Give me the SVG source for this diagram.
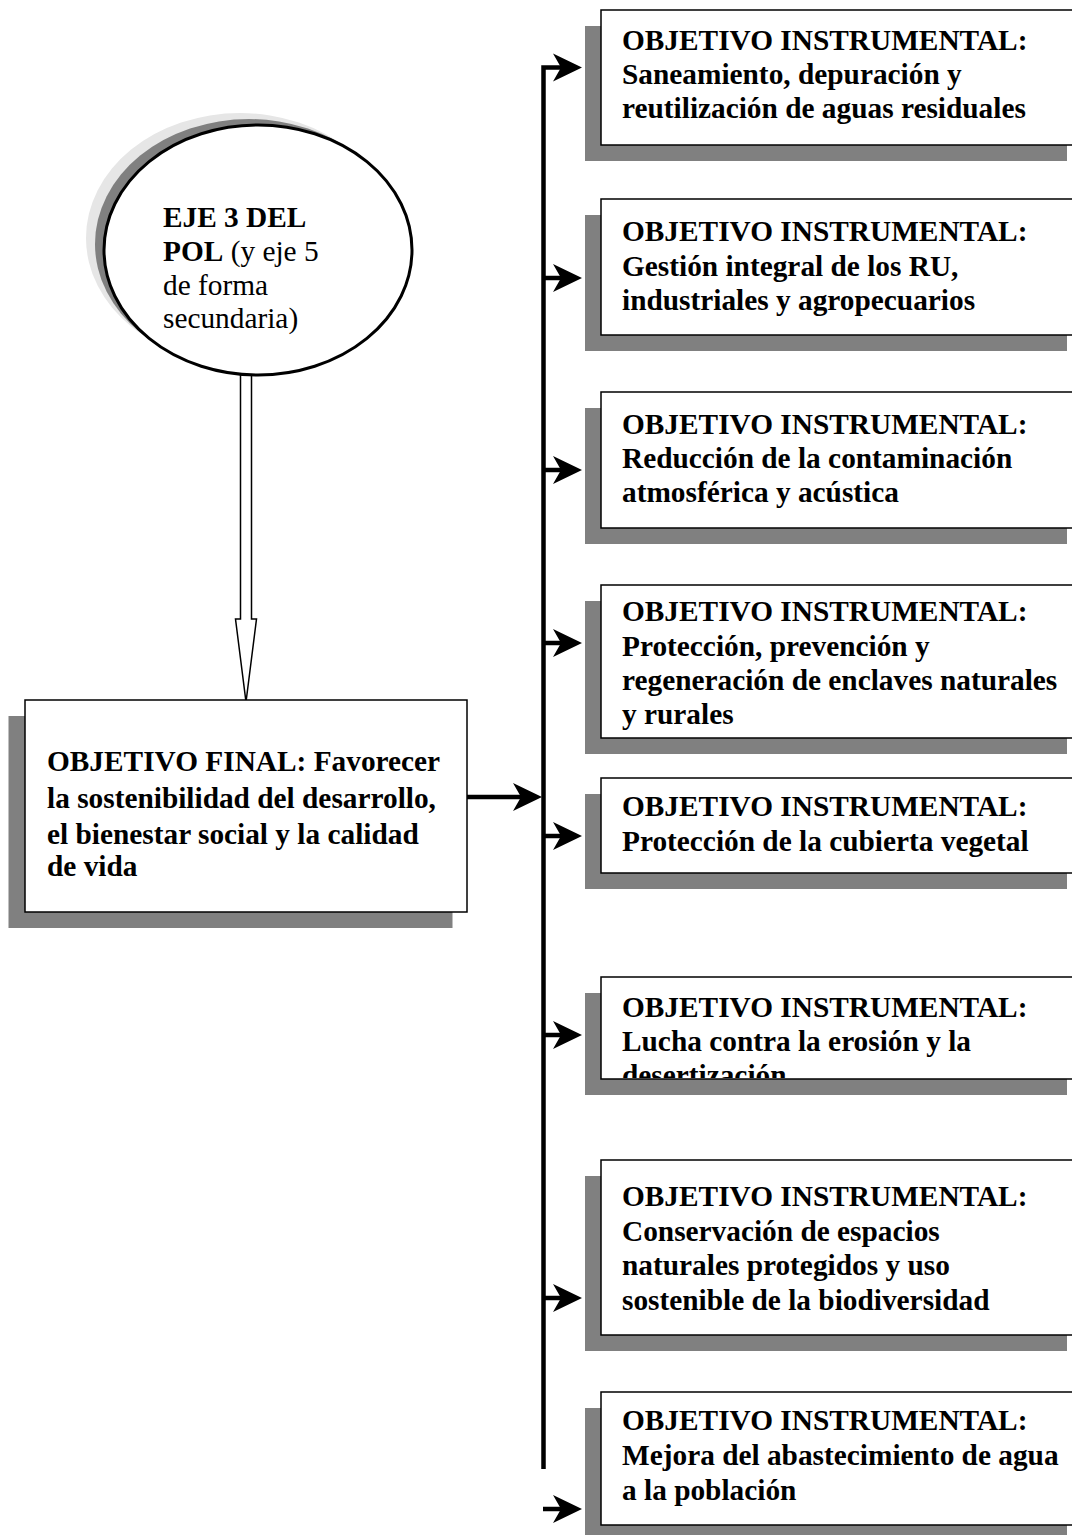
<svg xmlns="http://www.w3.org/2000/svg" width="1072" height="1535" viewBox="0 0 1072 1535">
<style>
.t{font-family:"Liberation Serif","Times New Roman",serif;font-size:29.33px;fill:#000}
.b{font-weight:bold}
.box{fill:#fff;stroke:#000;stroke-width:1.5}
.sh{fill:#808080}
.ln{fill:none;stroke:#000;stroke-width:4.5}
</style>
<defs>
<marker id="arr" markerUnits="userSpaceOnUse" markerWidth="34" markerHeight="32" viewBox="-10 -16 34 32" refX="0" refY="0" orient="auto">
<path d="M20,0 L-9,-14 L-1,0 L-9,14 Z" fill="#000"/>
</marker>
<clipPath id="c6"><rect x="601" y="977" width="480" height="101"/></clipPath>
</defs>
<rect width="1072" height="1535" fill="#fff"/>

<g id="eje3">
<polygon points="240.5,360 251.5,360 251.5,619 256.5,619 246,702 235.5,619 240.5,619" fill="#fff" stroke="#000" stroke-width="1.5"/>
<ellipse cx="240" cy="238" rx="154" ry="125" fill="#e6e6e6"/>
<ellipse cx="249" cy="244" rx="154" ry="125" fill="#808080"/>
<ellipse cx="258" cy="250" rx="154" ry="125" fill="#fff" stroke="#000" stroke-width="3"/>
<text class="t" x="163" y="227"><tspan class="b">EJE 3 DEL</tspan></text>
<text class="t" x="163" y="261"><tspan class="b">POL</tspan> (y eje 5</text>
<text class="t" x="163" y="295">de forma</text>
<text class="t" x="163" y="328">secundaria)</text>
</g>

<g id="final">
<rect class="sh" x="8.5" y="716" width="444" height="212"/>
<rect class="box" x="25" y="700" width="442" height="212"/>
<text class="t b" x="47" y="771">OBJETIVO FINAL: Favorecer</text>
<text class="t b" x="47" y="808">la sostenibilidad del desarrollo,</text>
<text class="t b" x="47" y="844">el bienestar social y la calidad</text>
<text class="t b" x="47" y="876">de vida</text>
</g>

<g id="obj1">
<rect class="sh" x="585" y="26" width="482" height="135"/>
<rect class="box" x="601" y="10" width="480" height="135"/>
<text class="t b" x="622" y="50">OBJETIVO INSTRUMENTAL:</text>
<text class="t b" x="622" y="84">Saneamiento, depuración y</text>
<text class="t b" x="622" y="118">reutilización de aguas residuales</text>
</g>

<g id="obj2">
<rect class="sh" x="585" y="215" width="482" height="136"/>
<rect class="box" x="601" y="199" width="480" height="136"/>
<text class="t b" x="622" y="241">OBJETIVO INSTRUMENTAL:</text>
<text class="t b" x="622" y="276">Gestión integral de los RU,</text>
<text class="t b" x="622" y="310">industriales y agropecuarios</text>
</g>

<g id="obj3">
<rect class="sh" x="585" y="408" width="482" height="136"/>
<rect class="box" x="601" y="392" width="480" height="136"/>
<text class="t b" x="622" y="434">OBJETIVO INSTRUMENTAL:</text>
<text class="t b" x="622" y="468">Reducción de la contaminación</text>
<text class="t b" x="622" y="502">atmosférica y acústica</text>
</g>

<g id="obj4">
<rect class="sh" x="585" y="601" width="482" height="153"/>
<rect class="box" x="601" y="585" width="480" height="153"/>
<text class="t b" x="622" y="621">OBJETIVO INSTRUMENTAL:</text>
<text class="t b" x="622" y="656">Protección, prevención y</text>
<text class="t b" x="622" y="690">regeneración de enclaves naturales</text>
<text class="t b" x="622" y="724">y rurales</text>
</g>

<g id="obj5">
<rect class="sh" x="585" y="794" width="482" height="95"/>
<rect class="box" x="601" y="778" width="480" height="95"/>
<text class="t b" x="622" y="816">OBJETIVO INSTRUMENTAL:</text>
<text class="t b" x="622" y="851">Protección de la cubierta vegetal</text>
</g>

<g id="obj6">
<rect class="sh" x="585" y="993" width="482" height="102"/>
<rect class="box" x="601" y="977" width="480" height="102"/>
<g clip-path="url(#c6)">
<text class="t b" x="622" y="1017">OBJETIVO INSTRUMENTAL:</text>
<text class="t b" x="622" y="1051">Lucha contra la erosión y la</text>
<text class="t b" x="622" y="1085">desertización</text>
</g>
</g>

<g id="obj7">
<rect class="sh" x="585" y="1176" width="482" height="175"/>
<rect class="box" x="601" y="1160" width="480" height="175"/>
<text class="t b" x="622" y="1206">OBJETIVO INSTRUMENTAL:</text>
<text class="t b" x="622" y="1241">Conservación de espacios</text>
<text class="t b" x="622" y="1275">naturales protegidos y uso</text>
<text class="t b" x="622" y="1310">sostenible de la biodiversidad</text>
</g>

<g id="obj8">
<rect class="sh" x="585" y="1408" width="482" height="133"/>
<rect class="box" x="601" y="1392" width="480" height="133"/>
<text class="t b" x="622" y="1430">OBJETIVO INSTRUMENTAL:</text>
<text class="t b" x="622" y="1465">Mejora del abastecimiento de agua</text>
<text class="t b" x="622" y="1500">a la población</text>
</g>

<g id="connectors">
<path class="ln" d="M543.5,1469 V67.5 H562" stroke-width="5" stroke-linejoin="miter" marker-end="url(#arr)"/>
<path class="ln" d="M467,797 H522" marker-end="url(#arr)"/>
<path class="ln" d="M543,278 H562" marker-end="url(#arr)"/>
<path class="ln" d="M543,470 H562" marker-end="url(#arr)"/>
<path class="ln" d="M543,643 H562" marker-end="url(#arr)"/>
<path class="ln" d="M543,836 H562" marker-end="url(#arr)"/>
<path class="ln" d="M543,1035 H562" marker-end="url(#arr)"/>
<path class="ln" d="M543,1298 H562" marker-end="url(#arr)"/>
<path class="ln" d="M543,1509 H562" marker-end="url(#arr)"/>
</g>
</svg>
